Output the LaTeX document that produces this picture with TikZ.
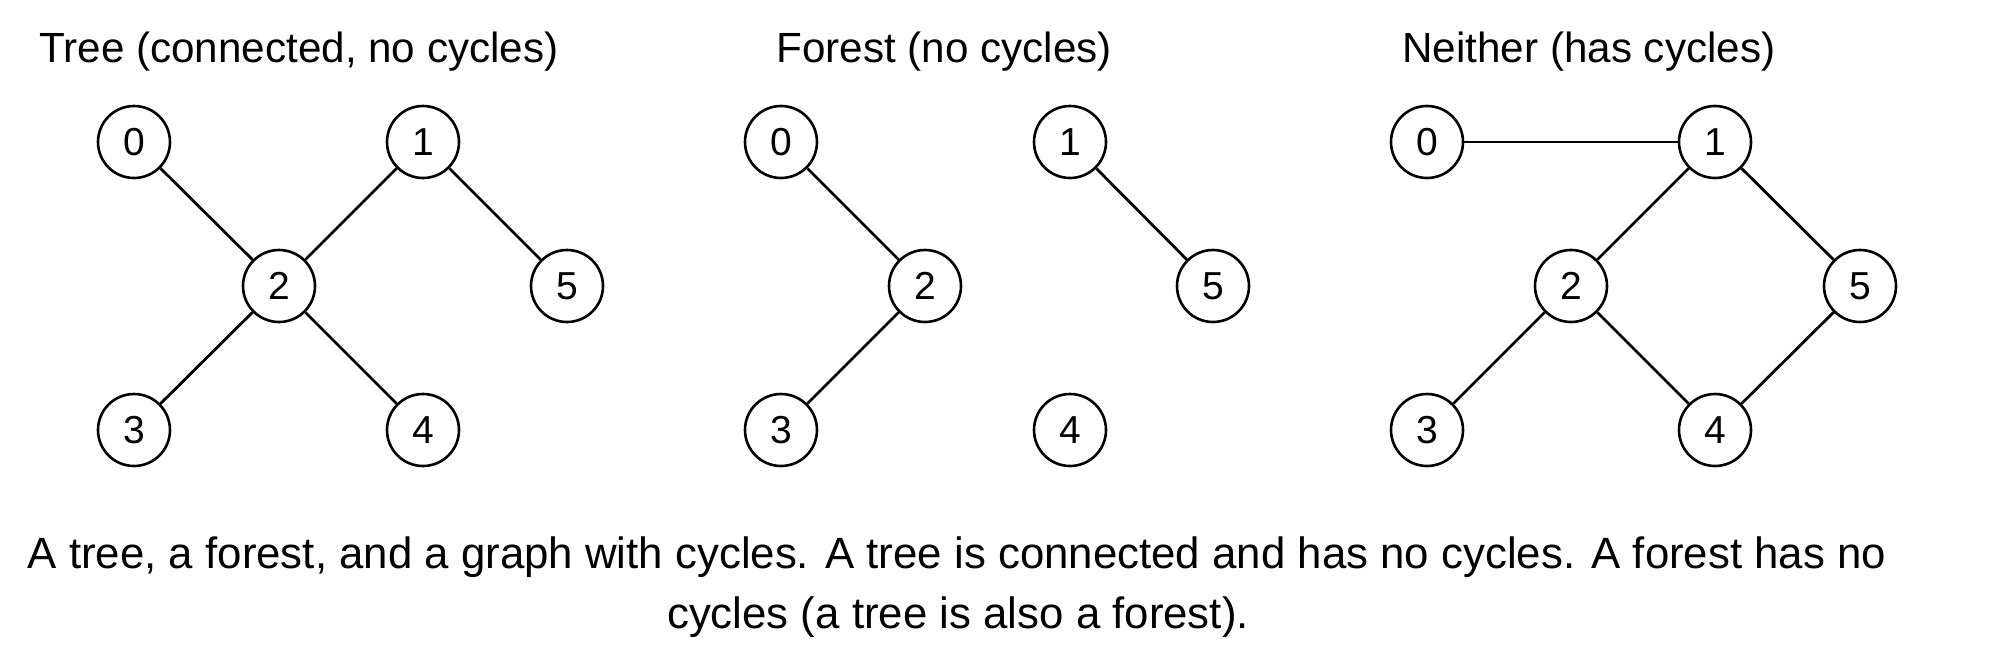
\documentclass[tikz,border=0pt]{standalone}
\usepackage{fontspec}
\setmainfont{Liberation Sans}
\usepackage{tikz}

\begin{document}
\begin{tikzpicture}[x = 0.5pt, y = -0.5pt, line width = 1.4pt,
    every node/.style = {font = \fontsize{19.5}{30}\selectfont},
    vert/.style = {circle, draw, line width = 1.3pt, minimum size = 36pt, inner sep = 0pt},
    title/.style = {anchor = base west, inner sep = 0pt, font = \fontsize{21.1}{30}\selectfont},
    caption/.style = {anchor = base, inner sep = 0pt, font = \fontsize{21.9}{30}\selectfont}]
      \useasboundingbox (0, 0) rectangle (1992, 658);
      % tree
      \node[title] (ttitle) at (38, 63) {Tree (connected, no cycles)};
      \node[vert] (t0) at (134, 142) {0};
      \node[vert] (t1) at (423, 142) {1};
      \node[vert] (t2) at (279, 286) {2} edge (t0) edge (t1);
      \node[vert] (t5) at (567, 286) {5} edge (t1);
      \node[vert] (t3) at (134, 430) {3} edge (t2);
      \node[vert] (t4) at (423, 430) {4} edge (t2);
      % forest
      \node[title] (ftitle) at (775, 63) {Forest (no cycles)};
      \node[vert] (f0) at (781, 142) {0};
      \node[vert] (f1) at (1070, 142) {1};
      \node[vert] (f2) at (925, 286) {2} edge (f0);
      \node[vert] (f5) at (1213, 286) {5} edge (f1);
      \node[vert] (f3) at (781, 430) {3} edge (f2);
      \node[vert] (f4) at (1070, 430) {4};
      % neither
      \node[title] (ntitle) at (1401, 63) {Neither (has cycles)};
      \node[vert] (n0) at (1427, 142) {0};
      \node[vert] (n1) at (1715, 142) {1} edge (n0);
      \node[vert] (n2) at (1571, 286) {2} edge (n1);
      \node[vert] (n5) at (1860, 286) {5} edge (n1);
      \node[vert] (n3) at (1427, 430) {3} edge (n2);
      \node[vert] (n4) at (1715, 430) {4} edge (n2) edge (n5);
      % caption
      \node[caption] (cap1) at (957, 568) {A tree, a forest, and a graph with cycles. A tree is connected and has no cycles. A forest has no};
      \node[caption] (cap2) at (958, 628) {cycles (a tree is also a forest).};
    \end{tikzpicture}
\end{document}
